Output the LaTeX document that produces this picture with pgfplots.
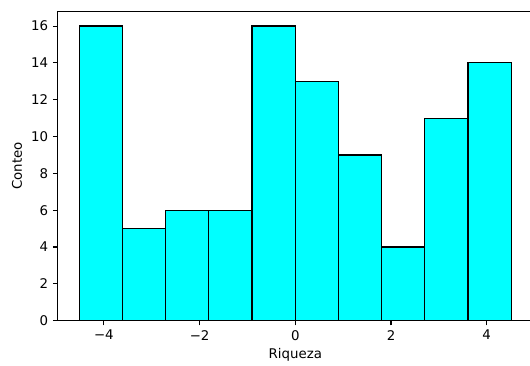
\documentclass[border=0pt]{standalone}
\usepackage{pgfplots}
\pgfplotsset{compat=1.18}
\usepackage{fontspec}
\setmainfont{DejaVu Sans}
\definecolor{aqua}{RGB}{0,255,255}
\begin{document}
\begin{tikzpicture}
\begin{axis}[
  scale only axis,
  width=356pt, height=231.75pt,
  xmin=-4.965, xmax=4.965,
  ymin=0, ymax=16.8,
  xtick={-4,-2,0,2,4},
  xticklabels={−4,−2,0,2,4},
  ytick={0,2,4,6,8,10,12,14,16},
  tick align=outside,
  xtick pos=bottom, ytick pos=left,
  major tick length=3.6pt,
  tick style={black, line width=0.8pt},
  axis line style={line width=0.8pt},
  ticklabel style={font=\fontsize{10}{12}\selectfont},
  /pgf/number format/assume math mode=true,
  label style={font=\fontsize{10}{12}\selectfont},
  xlabel={Riqueza}, ylabel={Conteo},
  xlabel style={yshift=1pt},
  clip=false,
]
\addplot[ybar interval, fill=aqua, draw=black, line width=0.9pt] coordinates {
  (-4.514,16) (-3.611,5) (-2.708,6) (-1.806,6) (-0.903,16) (0.000,13)
  (0.903,9) (1.806,4) (2.708,11) (3.611,14) (4.514,14)
};
\coordinate (BL) at (axis cs:-6.171,-2.449);
\coordinate (TR) at (axis cs:4.905,17.415);
\end{axis}
\pgfresetboundingbox
\useasboundingbox (BL) rectangle (TR);
\end{tikzpicture}
\end{document}
